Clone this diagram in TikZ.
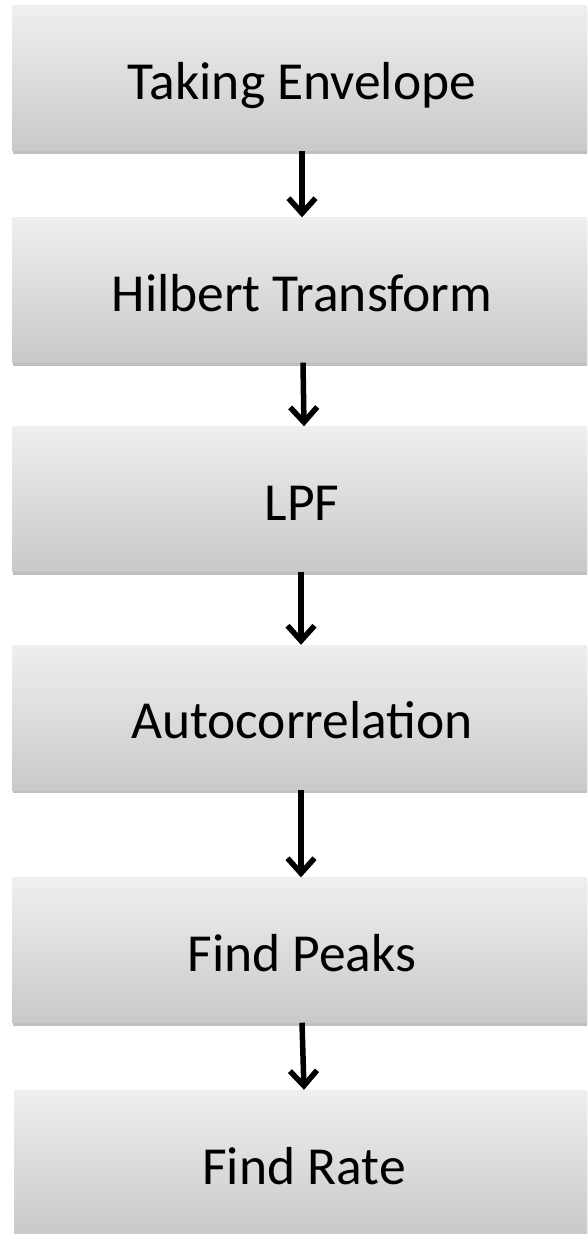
\documentclass[tikz,border=0pt]{standalone}
\usepackage{fontspec}
\setmainfont{Carlito}
\usetikzlibrary{arrows.meta,shadows}
\definecolor{boxtop}{HTML}{EFEFEF}
\definecolor{boxbot}{HTML}{C9C9C9}
\tikzset{
  stepbox/.style={rectangle, minimum width=580pt, minimum height=145pt,
    inner sep=0pt, text height=50pt, text depth=8pt,
    top color=boxtop, bottom color=boxbot, draw=none,
    font=\fontsize{53.5}{60}\selectfont,
    drop shadow={shadow xshift=1pt, shadow yshift=-3pt, opacity=0.35, fill=black!70}},
  flow/.style={line width=5.5pt, -{Straight Barb[length=15pt,width=27pt,line width=5.5pt]}}
}
\begin{document}
\begin{tikzpicture}[x=1pt,y=-1pt]
\clip (0,0) rectangle (587,1234);
\fill[white] (0,0) rectangle (587,1234);
\node[stepbox] (n1) at (302,78) {Taking Envelope};
\node[stepbox] (n2) at (302,290) {Hilbert Transform};
\node[stepbox] (n3) at (302,499) {LPF};
\node[stepbox] (n4) at (302,717.5) {Autocorrelation};
\node[stepbox] (n5) at (302,950) {Find Peaks};
\node[stepbox, minimum height=146pt] (n6) at (304,1163) {Find Rate};
\draw[flow] (n1.south) -- (n2.north);
\draw[flow] ([xshift=1pt]n2.south) -- ([xshift=2pt]n3.north);
\draw[flow] ([xshift=-1pt]n3.south) -- ([xshift=-1pt]n4.north);
\draw[flow] ([xshift=-1pt]n4.south) -- ([xshift=-1pt]n5.north);
\draw[flow] (n5.south) -- (n6.north);
\end{tikzpicture}
\end{document}
